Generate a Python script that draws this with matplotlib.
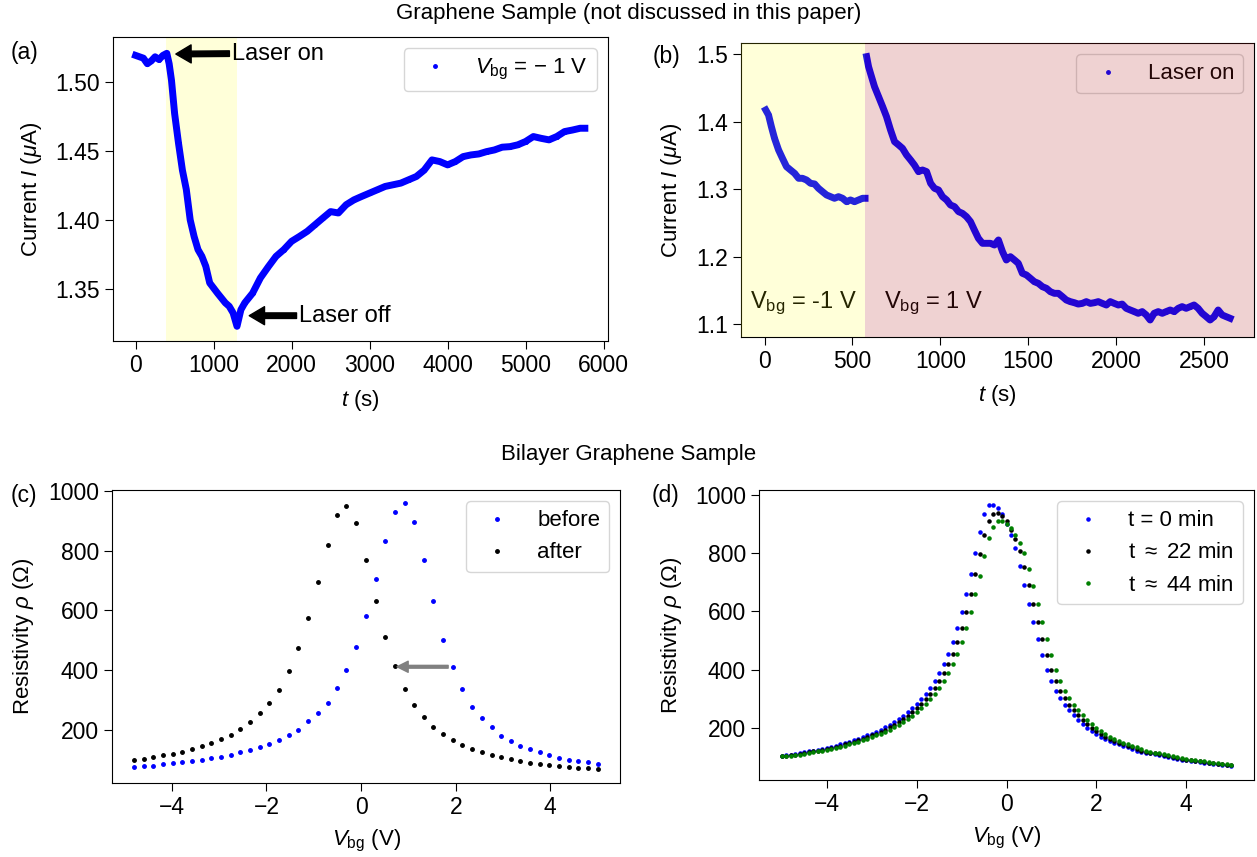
import matplotlib
matplotlib.use("Agg")
import matplotlib.pyplot as plt

plt.rcParams['font.family'] = ['Liberation Sans', 'DejaVu Sans']
plt.rcParams['font.size'] = 16
plt.rcParams['xtick.labelsize'] = 16.5
plt.rcParams['ytick.labelsize'] = 16.5
plt.rcParams['mathtext.fontset'] = 'custom'
plt.rcParams['mathtext.rm'] = 'Liberation Sans'
plt.rcParams['mathtext.it'] = 'Liberation Sans:italic'
plt.rcParams['mathtext.bf'] = 'Liberation Sans:bold'
plt.rcParams['xtick.major.size'] = 6
plt.rcParams['ytick.major.size'] = 6

# (a) current vs time, V_bg = -1 V
t_a = [0, 100, 150, 200, 250, 300, 350, 400, 430, 460, 500, 550, 600, 650, 700, 750,
       800, 850, 900, 950, 1000, 1050, 1100, 1150, 1200, 1250, 1300, 1350, 1400, 1500,
       1600, 1700, 1800, 1900, 2000, 2100, 2200, 2300, 2400, 2500, 2600, 2700, 2800,
       2900, 3000, 3100, 3200, 3300, 3400, 3500, 3600, 3700, 3800, 3900, 4000, 4100,
       4200, 4300, 4400, 4500, 4600, 4700, 4800, 4900, 5000, 5100, 5200, 5300, 5400,
       5500, 5600, 5700, 5760]
I_a = [1.519, 1.517, 1.513, 1.515, 1.518, 1.516, 1.519, 1.5205, 1.513, 1.501, 1.477,
       1.4555, 1.436, 1.422, 1.400, 1.388, 1.3785, 1.3736, 1.3664, 1.3544, 1.3507, 1.347,
       1.3435, 1.340, 1.3375, 1.3327, 1.323, 1.335, 1.340, 1.347, 1.358, 1.366, 1.3736,
       1.3785, 1.3845, 1.388, 1.3917, 1.3965, 1.4013, 1.406, 1.405, 1.411, 1.4145, 1.417,
       1.4194, 1.4218, 1.4242, 1.4254, 1.4266, 1.429, 1.4314, 1.436, 1.4434, 1.4422,
       1.4398, 1.4422, 1.4458, 1.447, 1.4477, 1.4494, 1.4506, 1.4526, 1.453, 1.4543,
       1.4567, 1.4603, 1.459, 1.4579, 1.4603, 1.4639, 1.465, 1.4663, 1.4663]
laser_a = (390, 1300)

# (b) current vs time, two gate voltages
t_b1 = [7, 23, 39, 57, 80, 102, 125, 148, 171, 194, 216, 239, 262, 285, 307, 330, 353,
        376, 398, 421, 444, 467, 489, 512, 535, 558, 572]
I_b1 = [1.4175, 1.410, 1.393, 1.3756, 1.3583, 1.346, 1.3336, 1.3286, 1.3237, 1.3163,
        1.3163, 1.3138, 1.3089, 1.3079, 1.3015, 1.2965, 1.2916, 1.2891, 1.2867, 1.2891,
        1.2867, 1.2817, 1.2842, 1.2817, 1.2842, 1.2867, 1.2867]
t_b2 = [581, 592, 603, 626, 649, 672, 694, 717, 740, 763, 785, 808, 831, 853, 876, 899,
        922, 945, 967, 990, 1013, 1036, 1058, 1081, 1104, 1126, 1149, 1172, 1194, 1217,
        1240, 1263, 1285, 1308, 1331, 1354, 1376, 1399, 1422, 1444, 1467, 1490, 1513,
        1535, 1558, 1581, 1604, 1626, 1649, 1672, 1695, 1717, 1740, 1763, 1785, 1808,
        1831, 1854, 1876, 1899, 1922, 1945, 1967, 1990, 2013, 2035, 2058, 2081, 2104,
        2126, 2149, 2172, 2194, 2217, 2240, 2263, 2285, 2308, 2331, 2354, 2376, 2399,
        2422, 2444, 2467, 2490, 2513, 2535, 2558, 2581, 2604, 2626, 2649]
I_b2 = [1.4965, 1.4817, 1.4719, 1.452, 1.4373, 1.4225, 1.4077, 1.388, 1.3706, 1.3657,
        1.3607, 1.3509, 1.3435, 1.336, 1.3262, 1.3286, 1.3262, 1.3089, 1.3015, 1.299,
        1.2891, 1.2842, 1.2768, 1.2743, 1.2669, 1.2644, 1.2595, 1.2521, 1.2398, 1.2274,
        1.22, 1.22, 1.22, 1.2175, 1.2249, 1.2077, 1.1953, 1.2002, 1.1953, 1.1904, 1.1756,
        1.1731, 1.1681, 1.1632, 1.1607, 1.1558, 1.1533, 1.1484, 1.1459, 1.1459, 1.141,
        1.136, 1.1336, 1.132, 1.130, 1.131, 1.1336, 1.131, 1.132, 1.1336, 1.131, 1.1286,
        1.1336, 1.131, 1.1286, 1.130, 1.1237, 1.1212, 1.1188, 1.1163, 1.1188, 1.1138,
        1.1064, 1.1163, 1.1188, 1.1163, 1.1188, 1.1212, 1.1188, 1.1237, 1.1262, 1.1237,
        1.1262, 1.1286, 1.1237, 1.1163, 1.1114, 1.1064, 1.1114, 1.1212, 1.1138, 1.1114,
        1.1089]
switch_b = 569

# (c) resistivity before / after
vbg_c = [-4.80, -4.60, -4.39, -4.19, -3.98, -3.78, -3.57, -3.37, -3.17, -2.96,
         -2.76, -2.55, -2.35, -2.14, -1.94, -1.74, -1.53, -1.33, -1.12, -0.92,
         -0.71, -0.51, -0.31, -0.10, 0.10, 0.31, 0.51, 0.71, 0.92, 1.12,
         1.33, 1.53, 1.74, 1.94, 2.14, 2.35, 2.55, 2.76, 2.96, 3.17,
         3.37, 3.57, 3.78, 3.98, 4.19, 4.39, 4.59, 4.80, 5.00]
rho_before = [77, 80, 82, 87, 90, 93, 98, 102, 107, 112, 118, 126, 133, 144, 154, 168,
              183, 202, 230, 256, 291, 341, 402, 479, 580, 704, 832, 930, 959, 894, 769,
              631, 500, 411, 339, 279, 242, 210, 182, 163, 147, 136, 126, 117, 108, 102,
              96, 93, 89]
rho_after = [101, 104, 110, 116, 121, 129, 137, 147, 158, 170, 184, 204, 228, 257, 292,
             336, 397, 476, 574, 694, 818, 917, 948, 891, 767, 633, 513, 413, 338, 284,
             243, 212, 187, 168, 151, 138, 126, 117, 110, 103, 98, 92, 88, 84, 81, 78,
             74, 73, 70]

# (d) resistivity at three times
vbg_d = [-5.0, -4.9, -4.8, -4.7, -4.6, -4.5, -4.4, -4.3, -4.2, -4.1,
         -4.0, -3.9, -3.8, -3.7, -3.6, -3.5, -3.4, -3.3, -3.2, -3.1,
         -3.0, -2.9, -2.8, -2.7, -2.6, -2.5, -2.4, -2.3, -2.2, -2.1,
         -2.0, -1.9, -1.8, -1.7, -1.6, -1.5, -1.4, -1.3, -1.2, -1.1,
         -1.0, -0.9, -0.8, -0.7, -0.6, -0.5, -0.4, -0.3, -0.2, -0.1,
         0.0, 0.1, 0.2, 0.3, 0.4, 0.5, 0.6, 0.7, 0.8, 0.9,
         1.0, 1.1, 1.2, 1.3, 1.4, 1.5, 1.6, 1.7, 1.8, 1.9,
         2.0, 2.1, 2.2, 2.3, 2.4, 2.5, 2.6, 2.7, 2.8, 2.9,
         3.0, 3.1, 3.2, 3.3, 3.4, 3.5, 3.6, 3.7, 3.8, 3.9,
         4.0, 4.1, 4.2, 4.3, 4.4, 4.5, 4.6, 4.7, 4.8, 4.9, 5.0]
rho_t0 = [104, 106, 108, 111, 113, 116, 119, 122, 125, 128,
          132, 135, 139, 143, 148, 152, 157, 162, 168, 174,
          180, 187, 194, 202, 211, 220, 231, 241, 254, 267,
          282, 299, 317, 338, 362, 389, 419, 455, 496, 541,
          596, 658, 727, 800, 873, 932, 965, 966, 955, 935,
          900, 862, 817, 755, 690, 625, 563, 505, 450, 400,
          360, 328, 302, 280, 261, 243, 227, 213, 200, 189,
          178, 170, 162, 155, 149, 143, 138, 133, 127, 122,
          118, 115, 112, 109, 106, 103, 100, 97, 94, 91,
          89, 87, 85, 83, 81, 79, 77, 75, 73, 71, 70]
rho_t22 = [103, 104, 106, 108, 111, 113, 116, 119, 122, 125,
           128, 132, 135, 139, 143, 148, 152, 157, 162, 168,
           174, 180, 187, 194, 202, 211, 220, 231, 241, 254,
           267, 282, 299, 317, 338, 362, 389, 419, 455, 496,
           541, 596, 658, 727, 795, 860, 910, 935, 937, 928,
           910, 880, 848, 808, 752, 690, 625, 563, 505, 450,
           400, 360, 328, 302, 280, 261, 243, 227, 213, 200,
           189, 178, 170, 162, 155, 149, 143, 138, 133, 127,
           122, 118, 115, 112, 109, 106, 103, 100, 97, 94,
           91, 89, 87, 85, 83, 81, 79, 77, 75, 73, 71]
rho_t44 = [102, 103, 104, 106, 108, 111, 113, 116, 119, 122,
           125, 128, 132, 135, 139, 143, 148, 152, 157, 162,
           168, 174, 180, 187, 194, 202, 211, 220, 231, 241,
           254, 267, 282, 299, 317, 338, 362, 389, 419, 455,
           496, 541, 596, 658, 722, 790, 850, 890, 908, 910,
           900, 885, 862, 835, 800, 745, 688, 625, 563, 505,
           450, 400, 360, 328, 302, 280, 261, 243, 227, 213,
           200, 189, 178, 170, 162, 155, 149, 143, 138, 133,
           127, 122, 118, 115, 112, 109, 106, 103, 100, 97,
           94, 91, 89, 87, 85, 83, 81, 79, 77, 75, 73]

fig = plt.figure(figsize=(12.57, 8.57), dpi=100)
W, H = 1257, 857

def box(l, t, r, b):
    return [l / W, 1 - b / H, (r - l) / W, (b - t) / H]

ax_a = fig.add_axes(box(113.3, 37.3, 607.7, 340.7))
ax_b = fig.add_axes(box(741.3, 43.3, 1254, 337))
ax_c = fig.add_axes(box(112.3, 490.3, 620.3, 783))
ax_d = fig.add_axes(box(759.3, 490.3, 1253.7, 780.3))

# ---- (a)
ax_a.axvspan(*laser_a, color='yellow', alpha=0.15, lw=0, zorder=0)
ax_a.plot(t_a, I_a, '-', color='blue', lw=5, zorder=2)
ax_a.plot(t_a, I_a, '.', color='blue', ms=5, zorder=3, label='$V_{\\rm bg}$ = \u2212 1 V')
ax_a.annotate('Laser on', xy=(516, 1.5200), xytext=(1238, 1.5203), va='center',
              fontsize=17, arrowprops=dict(facecolor='black', width=4, headwidth=13,
                                           headlength=11, shrink=0.0))
ax_a.annotate('Laser off', xy=(1457, 1.3307), xytext=(2099, 1.3307), va='center',
              fontsize=17, arrowprops=dict(facecolor='black', width=4, headwidth=13,
                                           headlength=11, shrink=0.0))
ax_a.set_xlim(-286, 6053)
ax_a.set_ylim(1.3126, 1.5321)
ax_a.set_xticks([0, 1000, 2000, 3000, 4000, 5000, 6000])
ax_a.set_yticks([1.35, 1.40, 1.45, 1.50])
ax_a.set_xlabel(r'$t$ (s)')
ax_a.set_ylabel(r'Current $I$ ($\mu$A)')
ax_a.legend(loc='upper right')

# ---- (b)
ax_b.plot(t_b1, I_b1, '-', color='blue', lw=5, zorder=2)
ax_b.plot(t_b2, I_b2, '-', color='blue', lw=5, zorder=2)
ax_b.plot(t_b1, I_b1, '.', color='blue', ms=5, zorder=3)
ax_b.plot(t_b2, I_b2, '.', color='blue', ms=5, zorder=3, label='Laser on')
ax_b.legend(loc='upper right')
ax_b.set_xlim(-132, 2785)
ax_b.set_ylim(1.0812, 1.5163)
ax_b.axvspan(-132, switch_b, color='yellow', alpha=0.15, lw=0, zorder=10)
ax_b.axvspan(switch_b, 2785, color='firebrick', alpha=0.2, lw=0, zorder=10)
ax_b.text(-80, 1.124, r'V$_{\rm bg}$ = -1 V', fontsize=17, va='baseline')
ax_b.text(680, 1.124, r'V$_{\rm bg}$ = 1 V', fontsize=17, va='baseline')
ax_b.set_xticks([0, 500, 1000, 1500, 2000, 2500])
ax_b.set_yticks([1.1, 1.2, 1.3, 1.4, 1.5])
ax_b.set_xlabel(r'$t$ (s)')
ax_b.set_ylabel(r'Current $I$ ($\mu$A)')

# ---- (c)
ax_c.plot(vbg_c, rho_before, '.', color='blue', ms=5, label='before')
ax_c.plot(vbg_c, rho_after, '.', color='black', ms=5, label='after')
ax_c.annotate('', xy=(0.76, 412), xytext=(1.84, 412),
              arrowprops=dict(facecolor='gray', edgecolor='gray', width=2,
                              headwidth=8, headlength=8, shrink=0.0))
ax_c.set_xlim(-5.26, 5.48)
ax_c.set_ylim(24, 1001)
ax_c.set_xticks([-4, -2, 0, 2, 4])
ax_c.set_yticks([200, 400, 600, 800, 1000])
ax_c.set_xlabel(r'$V_{\rm bg}$ (V)')
ax_c.set_ylabel(r'Resistivity $\rho$ ($\Omega$)')
ax_c.legend(loc='upper right')

# ---- (d)
ax_d.plot(vbg_d, rho_t0, '.', color='blue', ms=4.5, label='t = 0 min')
ax_d.plot(vbg_d, rho_t22, '.', color='black', ms=4.5, label=r't $\approx$ 22 min')
ax_d.plot(vbg_d, rho_t44, '.', color='green', ms=4.5, label=r't $\approx$ 44 min')
ax_d.set_xlim(-5.5, 5.5)
ax_d.set_ylim(20, 1015)
ax_d.set_xticks([-4, -2, 0, 2, 4])
ax_d.set_yticks([200, 400, 600, 800, 1000])
ax_d.set_xlabel(r'$V_{\rm bg}$ (V)')
ax_d.set_ylabel(r'Resistivity $\rho$ ($\Omega$)')
ax_d.legend(loc='upper right')

ax_a.yaxis.set_label_coords(-0.140, 0.5)
ax_b.yaxis.set_label_coords(-0.112, 0.5)
ax_c.yaxis.set_label_coords(-0.150, 0.5)
ax_d.yaxis.set_label_coords(-0.152, 0.5)
for ax in (ax_a, ax_b, ax_c, ax_d):
    ax.xaxis.set_label_coords(0.5, -0.155)

fig.text(0.5, 1 - 13 / H, 'Graphene Sample (not discussed in this paper)',
         ha='center', va='center', fontsize=16)
fig.text(0.5, 1 - 455 / H, 'Bilayer Graphene Sample', ha='center', va='center', fontsize=16)
fig.text(11 / W, 1 - 53 / H, '(a)', va='center', fontsize=16.5)
fig.text(653 / W, 1 - 56 / H, '(b)', va='center', fontsize=16.5)
fig.text(11 / W, 1 - 495 / H, '(c)', va='center', fontsize=16.5)
fig.text(652 / W, 1 - 496 / H, '(d)', va='center', fontsize=16.5)

fig.savefig('out.png', dpi=100)
